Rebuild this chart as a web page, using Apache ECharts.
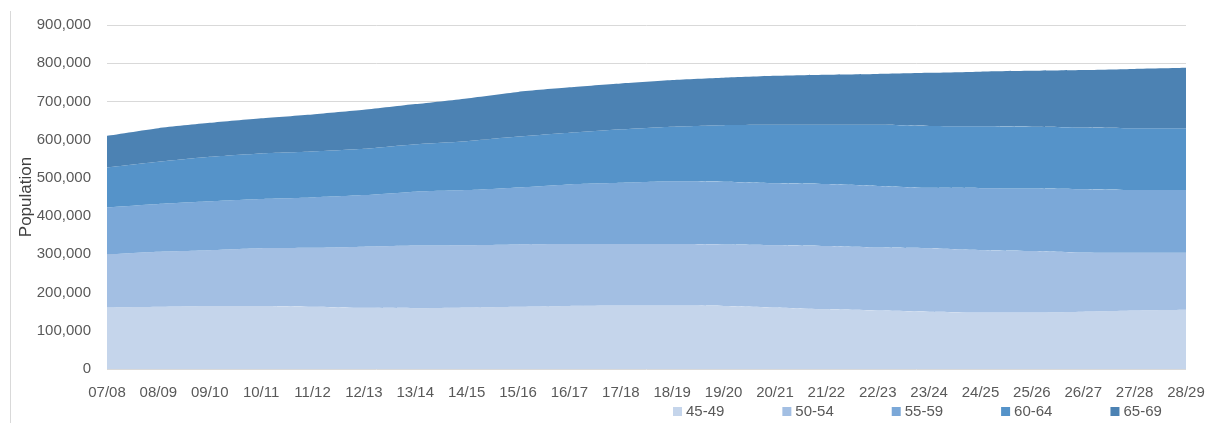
<!DOCTYPE html>
<html>
<head>
<meta charset="utf-8">
<script src="https://cdn.jsdelivr.net/npm/echarts@6/dist/echarts.min.js"></script>
<style>
html,body{margin:0;padding:0;background:#fff;}
#chart{width:1208px;height:423px;}
</style>
</head>
<body>
<div id="chart"></div>
<script>
var years = ['07/08','08/09','09/10','10/11','11/12','12/13','13/14','14/15','15/16','16/17','17/18',
	'18/19','19/20','20/21','21/22','22/23','23/24','24/25','25/26','26/27','27/28','28/29'];
var groups = ['45-49','50-54','55-59','60-64','65-69'];
var colors = ['#c5d5eb','#a3bfe3','#7ba8d8','#5593c9','#4c82b3'];

var age4549 = [161000,163000,165000,165000,163000,160000,159000,161000,163000,165000,166000,
	166000,165000,161000,156000,153000,150000,148000,148000,150000,153000,155000];
var age5054 = [139000,144000,146000,151000,154000,160000,164000,163000,163000,162000,161000,
	161000,161000,163000,166000,165000,166000,163000,161000,155000,151000,149000];
var age5559 = [123000,125000,128000,129000,132000,135000,141000,144000,149000,156000,160000,
	164000,164000,162000,162000,161000,158000,162000,163000,165000,164000,164000];
var age6064 = [104000,110000,116000,119000,120000,121000,124000,128000,133000,135000,140000,
	143000,148000,153000,155000,160000,162000,162000,162000,162000,162000,162000];
var age6569 = [83000,88000,89000,92000,97000,102000,105000,112000,117000,119000,120000,
	122000,124000,128000,131000,133000,139000,143000,146000,150000,155000,158000];
var values = [age4549, age5054, age5559, age6064, age6569];

var chart = echarts.init(document.getElementById('chart'));

var series = [];
for (var i=0;i<groups.length;i++){
	series.push({
		name: groups[i],
		type: 'line',
		stack: 'total',
		symbol: 'none',
		smooth: 0.2,
		lineStyle: {width: 0},
		areaStyle: {color: colors[i], opacity: 1},
		itemStyle: {color: colors[i]},
		data: values[i]
	});
}

chart.setOption({
	animation: false,
	textStyle: {fontFamily: 'Liberation Sans'},
	grid: {left: 107, right: 22, top: 25, bottom: 54},
	legend: {
		top: 404,
		left: 673,
		padding: 0,
		itemWidth: 9,
		itemHeight: 9,
		itemGap: 58,
		icon: 'rect',
		textStyle: {color: '#595959', fontSize: 15, padding: [0,0,0,-1]},
		data: groups
	},
	xAxis: {
		type: 'category',
		boundaryGap: false,
		data: years,
		axisLine: {show: false},
		axisTick: {show: false},
		axisLabel: {color: '#595959', fontSize: 15, margin: 16, interval: 0}
	},
	yAxis: {
		type: 'value',
		min: 0,
		max: 900000,
		interval: 100000,
		name: 'Population',
		nameLocation: 'middle',
		nameGap: 72,
		nameMoveOverlap: false,
		nameTextStyle: {color: '#404040', fontSize: 17},
		axisLine: {show: false},
		axisTick: {show: false},
		axisLabel: {
			color: '#595959',
			fontSize: 15,
			margin: 16,
			formatter: function (v) { return v.toLocaleString('en-US'); }
		},
		splitLine: {lineStyle: {color: '#d9d9d9', width: 1}}
	},
	graphic: [{
		type: 'line',
		shape: {x1: 10.5, y1: 11, x2: 10.5, y2: 423},
		style: {stroke: '#d9d9d9', lineWidth: 1}
	}],
	series: series
});
</script>
</body>
</html>
